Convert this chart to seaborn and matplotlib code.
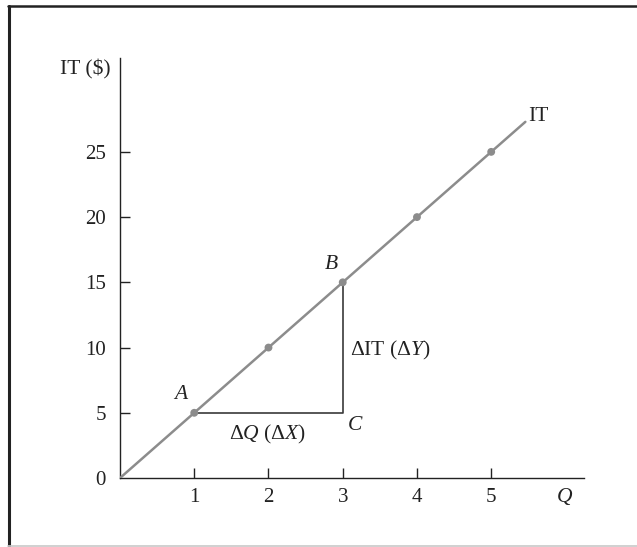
import matplotlib
matplotlib.use("Agg")
import matplotlib.pyplot as plt
from matplotlib.lines import Line2D
import seaborn as sns
import pandas as pd

# Total revenue (IT) as a function of quantity Q
q_points = [1, 2, 3, 4, 5]
it_points = [5, 10, 15, 20, 25]
line_q = [0, 1, 2, 3, 4, 5, 5.46]
line_it = [0, 5, 10, 15, 20, 25, 27.3]
x_ticks = [1, 2, 3, 4, 5]
y_ticks = [0, 5, 10, 15, 20, 25]

# Slope triangle between A (1, 5) and B (3, 15), corner C (3, 5)
tri_q = [1, 3, 3]
tri_it = [5, 5, 15]

sns.set_style("white")
plt.rcParams["font.family"] = ["Liberation Serif", "DejaVu Serif"]
plt.rcParams["mathtext.fontset"] = "custom"
plt.rcParams["mathtext.rm"] = "Liberation Serif"
plt.rcParams["mathtext.it"] = "Liberation Serif:italic"

fig = plt.figure(figsize=(6.37, 5.47), dpi=100)
ax = fig.add_axes([0.1884, 0.1261, 0.7284, 0.768])

line_df = pd.DataFrame({"Q": line_q, "IT": line_it})
pts_df = pd.DataFrame({"Q": q_points, "IT": it_points})

grey = "#8c8c8c"
ax.plot(tri_q, tri_it, color="#3a3a3a", lw=1.2, zorder=2)
sns.lineplot(data=line_df, x="Q", y="IT", ax=ax, color=grey, lw=1.8,
             sort=False, zorder=3)
sns.scatterplot(data=pts_df, x="Q", y="IT", ax=ax, color=grey, s=32,
                edgecolor="none", zorder=4)

ax.set_xlim(0, 6.25)
ax.set_ylim(0, 32.2)
ax.set_xticks(x_ticks)
ax.set_yticks(y_ticks)
ax.set_xticklabels([str(v) for v in x_ticks])
ax.set_yticklabels([str(v) for v in y_ticks])
ax.set_xlabel("")
ax.set_ylabel("")
for side in ["top", "right"]:
    ax.spines[side].set_visible(False)
for side in ["left", "bottom"]:
    ax.spines[side].set_color("#222222")
    ax.spines[side].set_linewidth(1.0)
ax.tick_params(axis="both", direction="in", length=7.5, width=1.0,
               bottom=True, left=True,
               color="#222222", labelsize=15, labelcolor="#222222")
ax.tick_params(axis="x", pad=7)
ax.tick_params(axis="y", pad=10)
ax.yaxis.get_major_ticks()[0].tick1line.set_visible(False)

txt = dict(color="#222222", fontsize=15.5)
ax.text(-0.13, 31.3, "IT ($)", ha="right", va="center", clip_on=False, **txt)
ax.text(5.5, 27.7, "IT", ha="left", va="center", **txt)
ax.text(5.99, -1.45, "$Q$", ha="center", va="center", clip_on=False, **txt)
ax.text(0.82, 6.4, "$A$", ha="center", va="center", **txt)
ax.text(2.84, 16.4, "$B$", ha="center", va="center", **txt)
ax.text(3.17, 4.0, "$C$", ha="center", va="center", **txt)
ax.text(1.98, 3.3, r"$\Delta Q\ (\Delta X)$", ha="center", va="center", **txt)
ax.text(3.1, 9.8, r"$\Delta \mathrm{IT}\ (\Delta Y)$", ha="left", va="center", **txt)

# Panel frame: dark top and left edges, light bottom edge
fig.add_artist(Line2D([8.5 / 637, 8.5 / 637], [0, 1 - 5.5 / 547],
                      transform=fig.transFigure, color="#222222", lw=2.2))
fig.add_artist(Line2D([7.5 / 637, 1], [1 - 5.8 / 547, 1 - 5.8 / 547],
                      transform=fig.transFigure, color="#222222", lw=1.8))
fig.add_artist(Line2D([8 / 637, 1], [0.9 / 547, 0.9 / 547],
                      transform=fig.transFigure, color="#c8c8c8", lw=1.2))

fig.savefig("out.png", dpi=100)
